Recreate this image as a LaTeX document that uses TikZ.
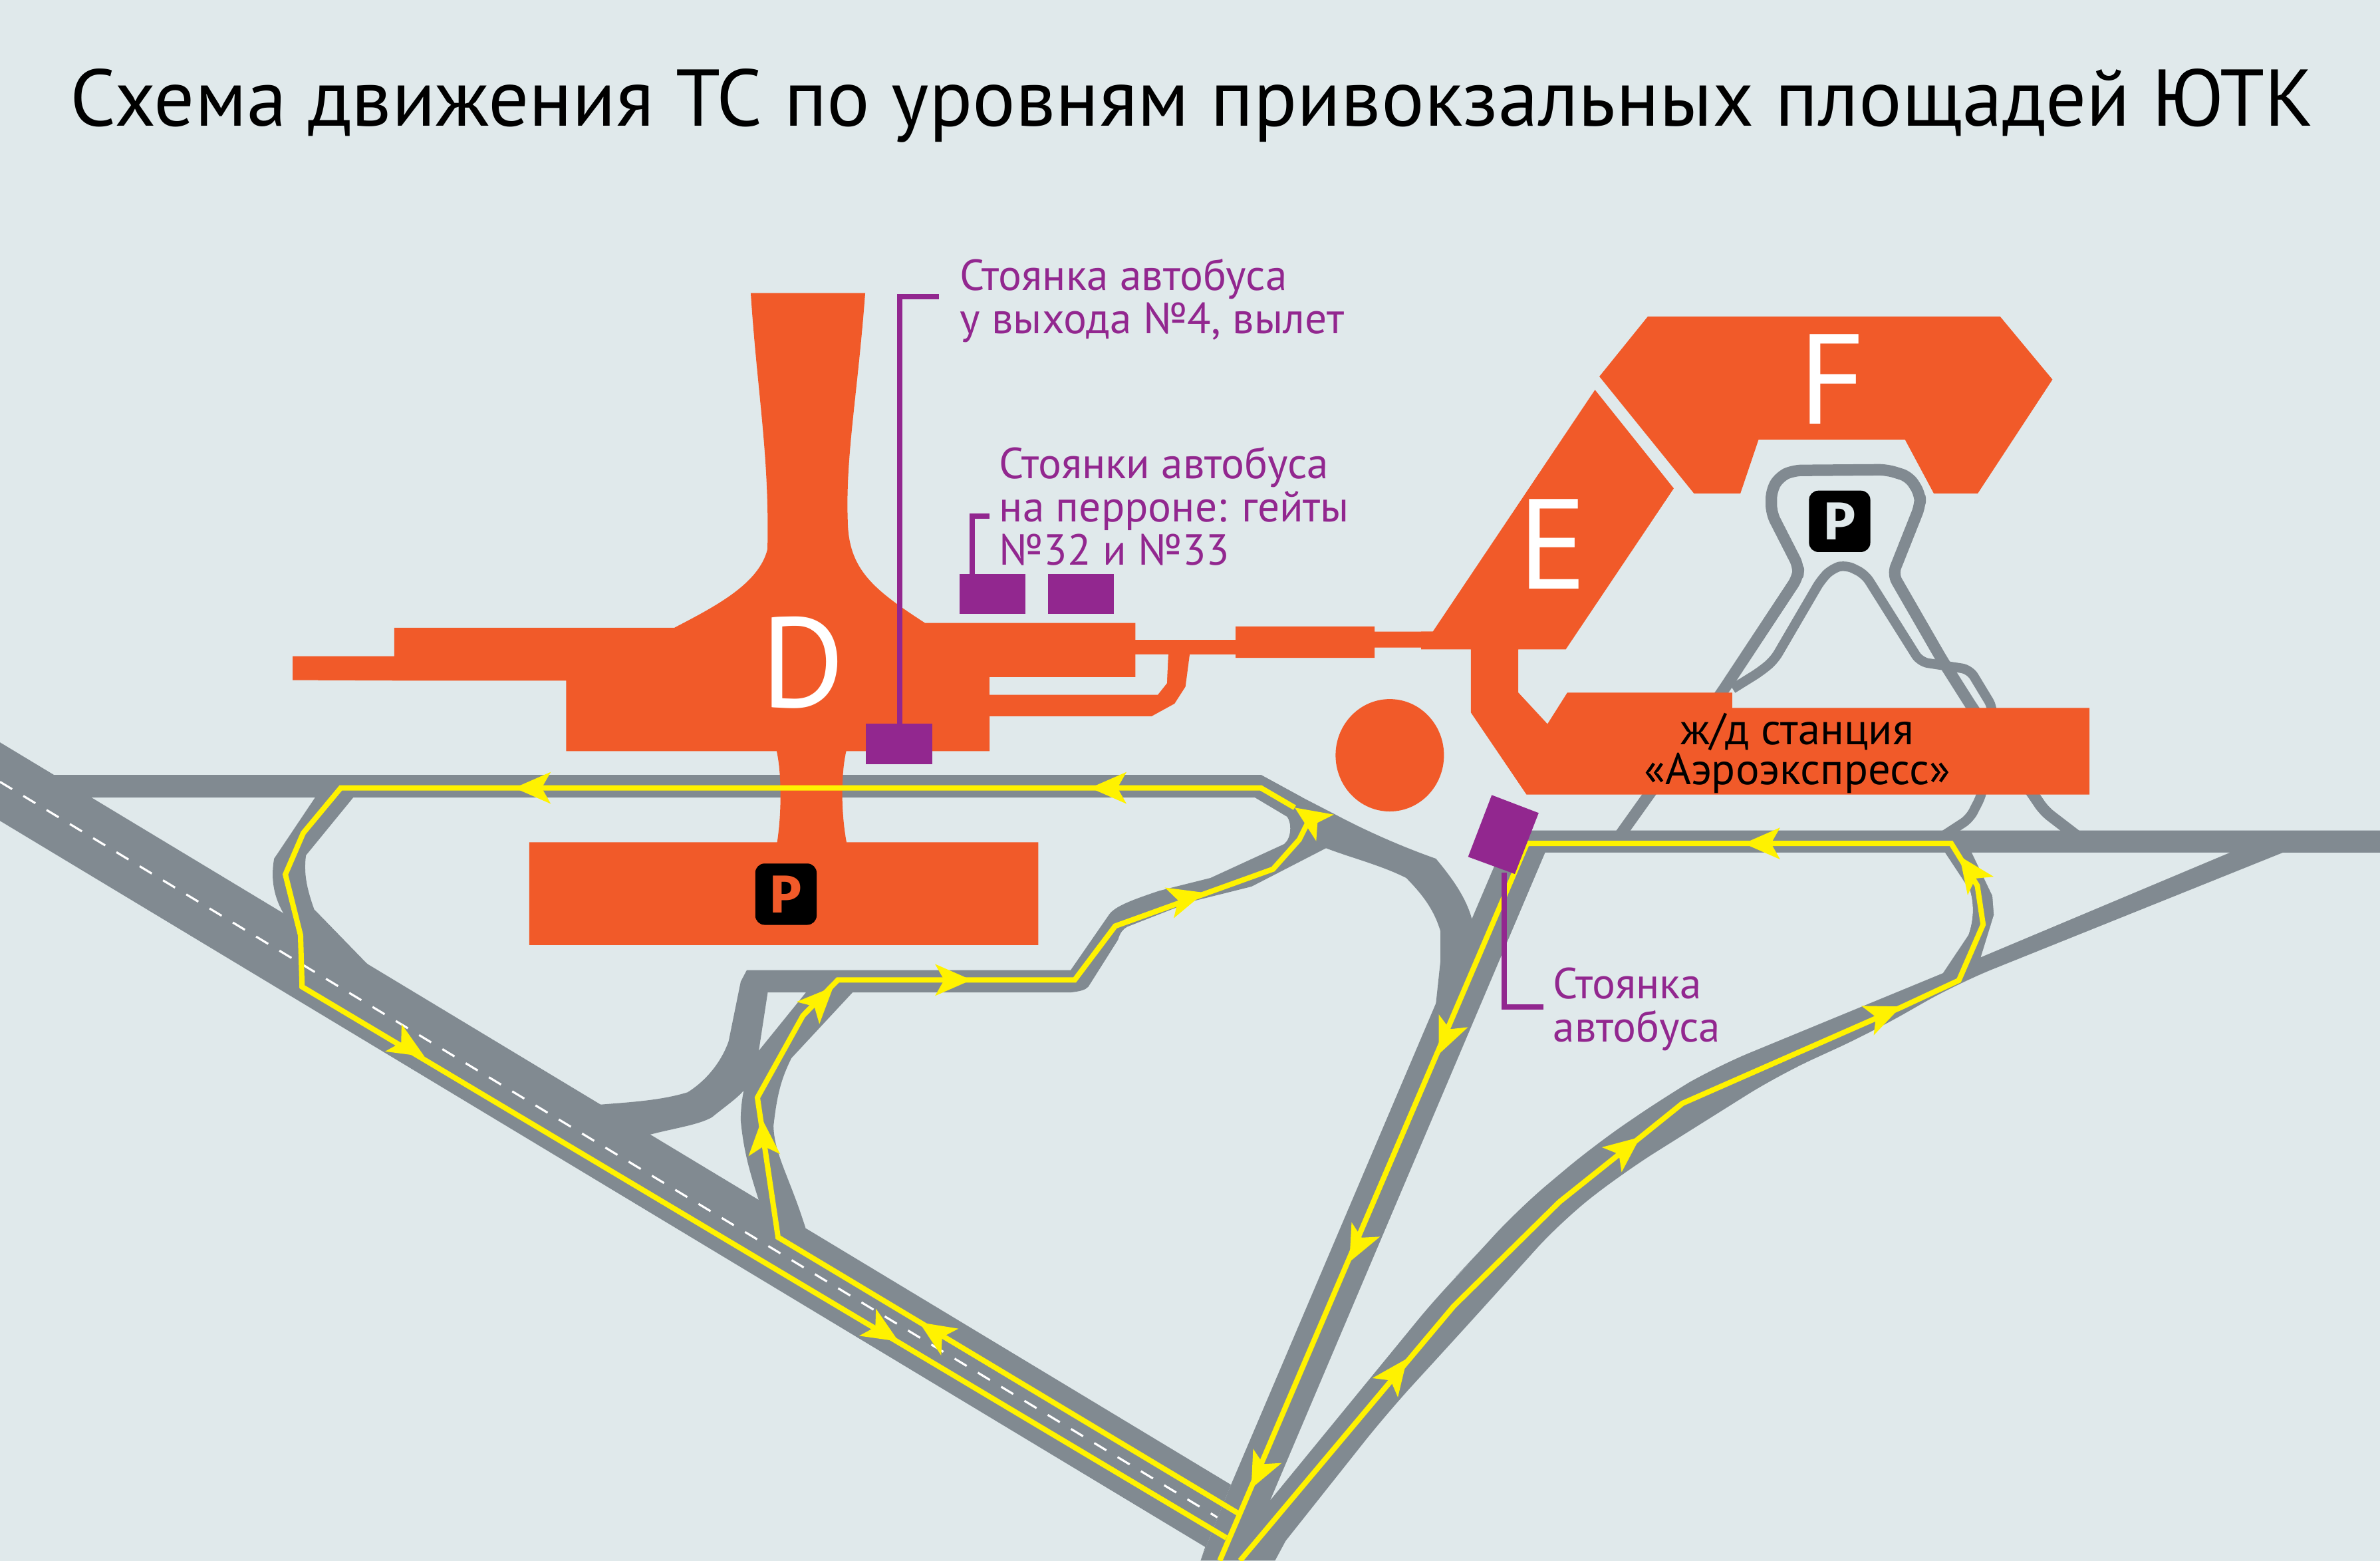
\documentclass[tikz,border=0pt]{standalone}
\usepackage{fontspec}
\setmainfont{PT Sans}
\newfontfamily\pfont{Fira Sans}
\definecolor{bgc}{HTML}{E0E9EB}
\definecolor{roadc}{HTML}{818A91}
\definecolor{orangec}{HTML}{F15A29}
\definecolor{purplec}{HTML}{92278F}
\definecolor{routec}{HTML}{FFF200}
\tikzset{
  road/.style={fill=roadc},
  thinroad/.style={draw=roadc,line width=4.3pt,line join=round,rounded corners=3pt},
  thinroadb/.style={draw=roadc,line width=3.6pt,line join=round,rounded corners=3pt},
  building/.style={fill=orangec},
  stand/.style={fill=purplec},
  leader/.style={draw=purplec,line width=2pt},
  route/.style={draw=routec,line width=2pt,line join=miter},
  dashline/.style={draw=white,line width=.8pt,dash pattern=on 5.3pt off 4.9pt},
  purpletext/.style={text=purplec,font=\fontsize{16.3}{15.4}\selectfont,align=left,inner sep=0pt,anchor=north west},
  letter/.style={text=white,font=\fontsize{48}{48}\selectfont,inner sep=0pt},
  psign/.style={fill=black,rounded corners=3.5pt,minimum width=23pt,minimum height=23pt,inner sep=0pt,font=\pfont\bfseries\fontsize{20}{20}\selectfont},
}
\newcommand{\yarr}[4]{%
  \pgfmathsetmacro{\arrang}{atan2(#4-#2,#1-#3)}%
  \fill[routec,shift={(#1,#2)},rotate=\arrang] (0,0) -- (-24,10.5) -- (-18,0) -- (-24,-10.5) -- cycle;}
\begin{document}
\begin{tikzpicture}[x=0.02cm,y=-0.02cm]
\useasboundingbox (0,0) rectangle (1568,1028.2);
\fill[bgc] (0,0) rectangle (1568,1028.2);

% --- roads ---
\fill[road] (0,489) -- (811,978) -- (791,1028) -- (794,1019) -- (0,540.7) -- cycle;
\fill[road] (35,510.4) -- (830.7,510.4) -- (858,525.3) -- (60,525.3) -- (50,528) -- cycle;
% west loop
\fill[road] (207.8,525) -- (180.6,565.6) .. controls (178,580) and (181,592) .. (187,602) -- (200,625) -- (243,636) -- (207,599) .. controls (202,585) and (200,575) .. (201.6,563.4) -- (233,525) -- cycle;
% curved link to N-S road
\fill[road] (830.7,510.4) -- (858,525.3) -- (879.5,536.4) .. controls (905,550) and (930,560) .. (946,565.6) .. controls (958,580) and (966,592) .. (969.6,605) -- (975,610) -- (952,665) -- (946,661) -- (949,633) -- (949,613.4) .. controls (945,600) and (938,590) .. (926.4,578.3) .. controls (910,570) and (890,565) .. (873.6,558.7) -- (850,540) -- cycle;
% inner loop to lower level
\fill[road] (826.7,525.3) -- (848,538) .. controls (851,542) and (851,552) .. (846,556) -- (797.5,578.3) -- (764,586.7) .. controls (745,593) and (735,597) .. (731,602) -- (705.4,639) -- (492,639) -- (488,646.6) -- (480,686) .. controls (475,700) and (465,712) .. (453,719.5) .. controls (435,725) and (415,726) .. (394.3,727.7) -- (405,745) -- (428,747.4) .. controls (445,743) and (460,741) .. (469,736) .. controls (480,727) and (488,722) .. (492,715.5) -- (500,691.5) -- (505.8,653.7) -- (531,653.7) -- (500,692) .. controls (492,705) and (488,722) .. (488,738) .. controls (490,760) and (495,775) .. (500,791) -- (515,810) -- (530.7,808.8) .. controls (520,775) and (510,760) .. (509.6,741.7) .. controls (512,720) and (515,710) .. (521.4,697) -- (561.7,653.7) -- (705.4,653.7) .. controls (712,653) and (715,652) .. (717,650) -- (736.6,619) .. controls (738,614) and (740,612) .. (742.6,610.5) -- (785.5,593.7) -- (824.5,584) -- (873.6,558.7) -- (858,525.3) -- cycle;
% N-S road, horizontal and SE ramp
\fill[road] (994.5,547) -- (1568,547) -- (1568,561.6) -- (1504,561.6) [rounded corners=14pt] -- (1290,647.6) -- (1233,680) -- (1172,708) -- (1070,772) -- (1029,804) -- (964,876) -- (914,930.6) [sharp corners] -- (847,1015) -- (840,1028) -- (791,1028) -- (811,978) -- cycle;
\fill[bgc] (1018,561.6) -- (1281.5,561.6) -- (1298,586.6) .. controls (1301,597) and (1300,607) .. (1297,615.6) -- (1280,641) [rounded corners=14pt] -- (1129.5,703) -- (1099,721) -- (1050.6,754) -- (1000,796.5) -- (964,836) -- (950,850) [sharp corners] -- (837,988) -- cycle;
% bulge of east loop
\fill[road] (1299,561) -- (1312.6,590) -- (1313.6,602.6) -- (1305,630.5) -- (1290,640) -- (1297,615.6) .. controls (1300,607) and (1301,597) .. (1298,586.6) -- (1281.5,561.6) -- cycle;
\fill[bgc] (1469,561.6) -- (1305,630.5) -- (1313.6,602.6) -- (1312.6,590) -- (1299,561.6) -- cycle;
% roads round the car park
\draw[thinroad] (1066,552) -- (1134.3,456.2) -- (1184.4,380.3) -- (1185,373.3) -- (1167,338) -- (1167,323) -- (1172.4,314) -- (1181.5,309.9) -- (1243,309.4) -- (1257.8,314) -- (1265,325.5) -- (1265,333) -- (1247,378.3) -- (1279.6,434.9) -- (1299.5,466.3) -- (1339.5,523.4) -- (1346.8,534.2) -- (1370,552);
\draw[thinroadb] (1141.5,453.7) -- (1159.7,442.4) -- (1168.8,434.9) -- (1199.7,382) -- (1207,374.5) -- (1216,372) -- (1228.7,378.3) -- (1265,436) -- (1297.7,441) -- (1313,466.3) -- (1305.7,523.4) -- (1297.7,539.2) -- (1278,552);

\draw[dashline] (0,515) -- (802,999.5);

% --- buildings ---
\fill[building] (494.6,193) -- (570,193) .. controls (565,260) and (557,300) .. (558.5,343) .. controls (559,375) and (575,388) .. (609.3,410.3)
  -- (748,410.3) -- (748,421.5) -- (814,421.5) -- (814,412.6) -- (905.6,412.6) -- (905.6,416) -- (950,416) -- (950,426.6) -- (905.6,426.6) -- (905.6,433.3) -- (814,433.3) -- (814,431) -- (783.8,431) -- (781,452.3) -- (773.8,463.5) -- (758.7,471.8) -- (652,471.8) -- (652,494.8) -- (557.5,494.8)
  .. controls (554,510) and (554,535) .. (557.7,554.8) -- (684,554.8) -- (684,622.5) -- (348.7,622.5) -- (348.7,554.8) -- (512,554.8) .. controls (515,535) and (515,510) .. (511.7,494.8)
  -- (373,494.8) -- (373,448.3) -- (259.7,448.3) -- (192.8,448) -- (192.8,432.2) -- (259.7,432.2) -- (259.7,413.5) -- (444.3,413.5) .. controls (470,400) and (500,385) .. (505.6,361.8) .. controls (507,300) and (499,260) .. (494.6,193) -- cycle;
\fill[bgc] (748,431) -- (769.7,431) -- (768.8,450) -- (762.7,457.7) -- (652,457.7) -- (652,446) -- (748,446) -- cycle;
\fill[building] (1050.8,256.8) -- (1102.7,321.7) -- (1031.5,427.8) -- (1000.3,427.8) -- (1000.3,456.2) -- (1019.5,476.9) -- (1032.6,456.2) -- (1141.2,456.2) -- (1141.2,466.3) -- (1376.6,466.3) -- (1376.6,523.4) -- (1005.7,523.4) -- (969,469.3) -- (969,427.8) -- (936.3,427.8) -- (936.3,416) -- (944,416) -- cycle;
\fill[building] (1085.6,208.5) -- (1317.7,208.5) -- (1352.2,250) -- (1303,325) -- (1274,325) -- (1255,289.5) -- (1158.6,289.5) -- (1146.6,325) -- (1116,325) -- (1053.7,248) -- cycle;
\fill[building] (915.6,497.5) ellipse [x radius=35.7,y radius=37];

% --- routes ---
\draw[route] (853,532) -- (830.7,519) -- (224.5,519) -- (199.8,548.7) -- (188,576) -- (198,616) -- (199,650) -- (808,1013);
\draw[route] (816,997) -- (512.6,815) -- (499,723) -- (529,669) -- (552,645.5) -- (708,645.5) -- (734.7,610) -- (838.7,572.5) -- (856,553) -- (862,541);
\draw[route] (817,1028) -- (957.7,860.4) -- (1027.4,791.7) -- (1079.6,750) -- (1108.4,726.8) -- (1252.5,663.5) -- (1290.5,645.8) -- (1306.5,609) -- (1302.7,583.4) -- (1285.5,555.6) -- (1006,555.6) -- (803.6,1028);
\yarr{338.9}{519}{363}{519}
\yarr{718.2}{519}{742}{519}
\yarr{279.7}{696}{255.7}{681.5}
\yarr{592}{883.6}{570}{870}
\yarr{605.6}{871}{626.5}{884.5}
\yarr{502}{737}{503.5}{760}
\yarr{549}{650}{532.5}{667}
\yarr{640}{645.5}{616}{645.5}
\yarr{793.4}{588}{766}{596}
\yarr{853}{532}{872.5}{545}
\yarr{947.9}{694.4}{956.7}{674.3}
\yarr{889}{831.3}{900}{809.5}
\yarr{824.3}{980.5}{835}{959}
\yarr{927}{894.9}{913}{913.5}
\yarr{1080.6}{749}{1063}{763}
\yarr{1252.5}{663}{1231}{672}
\yarr{1291}{564}{1304.5}{583}
\yarr{1148.8}{555.6}{1175}{555.6}

% --- bus stands ---
\fill[stand] (570.6,476.5) rectangle (614.3,503.3);
\fill[stand] (632,378) rectangle (675.7,404.5);
\fill[stand] (690.3,378) rectangle (734,404.5);
\fill[stand] (982.8,523.7) -- (1013.7,535.5) -- (998,575.7) -- (967.2,564.4) -- cycle;
\coordinate (l1a) at (592.7,476.5);
\coordinate (l1b) at (618.8,195.3);
\draw[leader] (l1a) |- (l1b);
\coordinate (l2a) at (640.5,378);
\coordinate (l2b) at (652,340);
\draw[leader] (l2a) |- (l2b);
\coordinate (l3a) at (990.8,575);
\coordinate (l3b) at (1017,663.5);
\draw[leader] (l3a) |- (l3b);

% --- texts ---
\node[anchor=base west,inner sep=0pt,font=\fontsize{30.15}{30}\selectfont] (title) at (46,83) {Схема движения ТС по уровням привокзальных площадей ЮТК};
\node[purpletext] (t1) at (632,170) {Стоянка автобуса\\[0.9pt]у выхода №4, вылет};
\node[purpletext] (t2) at (658,294) {Стоянки автобуса\\[0.9pt]на перроне: гейты\\[0.9pt]№32 и №33};
\node[purpletext] (t3) at (1023,637) {Стоянка\\[0.9pt]автобуса};
\node[anchor=center,align=center,inner sep=0pt,text=black,font=\fontsize{16.6}{15}\selectfont] (rail) at (1184,496) {ж/д станция\\«Аэроэкспресс»};
\node[letter,anchor=base] (D) at (529,466) {D};
\node[letter,anchor=base] (E) at (1023,388) {E};
\node[letter,anchor=base] (F) at (1207,279.5) {F};
\node[psign,text=orangec] (p1) at (517.8,589) {P};
\node[psign,text=bgc] (p2) at (1212,343.4) {P};
\end{tikzpicture}
\end{document}
